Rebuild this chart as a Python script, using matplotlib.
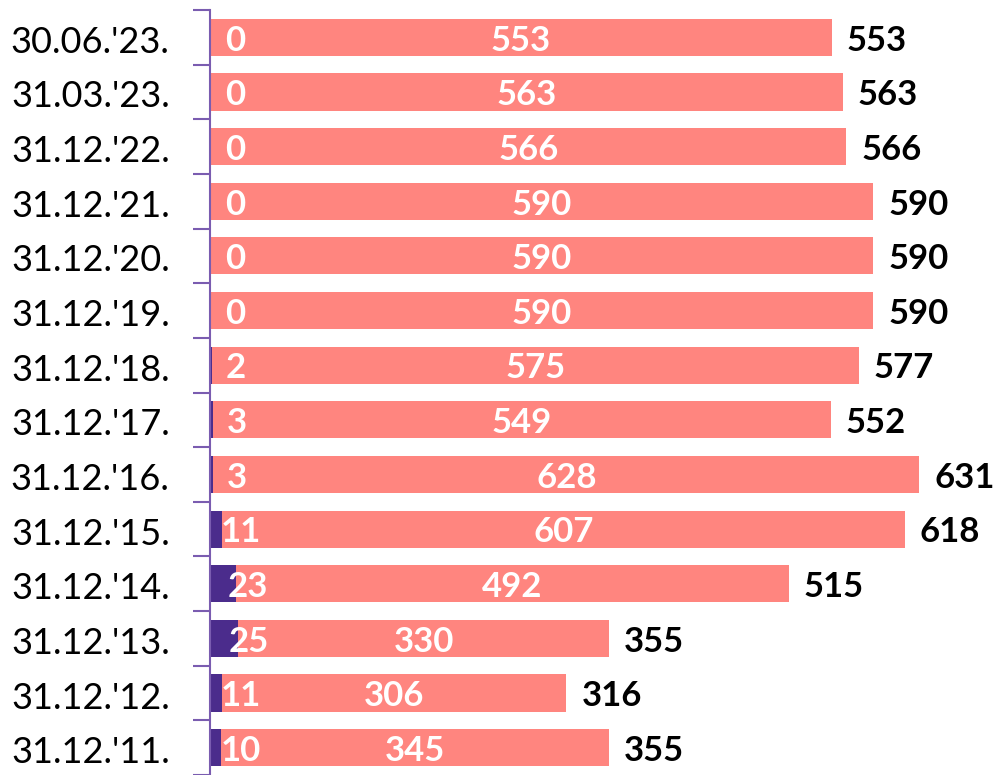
import matplotlib
matplotlib.use("Agg")
import matplotlib.pyplot as plt
import matplotlib.transforms as mtransforms
import numpy as np

categories = ["30.06.'23.", "31.03.'23.", "31.12.'22.", "31.12.'21.", "31.12.'20.", "31.12.'19.",
              "31.12.'18.", "31.12.'17.", "31.12.'16.", "31.12.'15.", "31.12.'14.", "31.12.'13.",
              "31.12.'12.", "31.12.'11."]
series_a = [0, 0, 0, 0, 0, 0, 2, 3, 3, 11, 23, 25, 11, 10]
series_b = [553, 563, 566, 590, 590, 590, 575, 549, 628, 607, 492, 330, 306, 345]
totals = [553, 563, 566, 590, 590, 590, 577, 552, 631, 618, 515, 355, 316, 355]

purple = "#4B2C8C"
salmon = "#FF857F"
axis_col = "#7A5CB0"
font = "Lato"

fig = plt.figure(figsize=(9.97, 7.75), dpi=100)
ax = fig.add_axes([210/997, 0, 1 - 210/997, 765/775])

n = len(categories)
y = np.arange(n)[::-1]
a = np.array(series_a, dtype=float)
b = np.array(series_b, dtype=float)
h = 0.68
ax.barh(y, a, height=h, color=purple, linewidth=0)
ax.barh(y, b, left=a, height=h, color=salmon, linewidth=0)

px = 700 / (997 - 210)  # data units per pixel
fs = 25
dy = -0.06
for yi, av, bv, tv in zip(y, a, b, totals):
    ax.text(av / 2 + 25 * px, yi + dy, f"{int(av)}", color="white", fontsize=fs, fontweight="bold",
            ha="center", va="center", family=font)
    ax.text(av + bv / 2, yi + dy, f"{int(bv)}", color="white", fontsize=fs, fontweight="bold",
            ha="center", va="center", family=font)
    ax.text(av + bv + 15 * px, yi + dy, f"{int(tv)}", color="black", fontsize=fs, fontweight="bold",
            ha="left", va="center", family=font)

ax.set_xlim(0, 700)
ax.set_ylim(-0.5, n - 0.5)
ax.set_yticks(y)
ax.set_yticklabels(categories, family=font, fontsize=26)
ax.set_yticks(np.arange(n + 1) - 0.5, minor=True)
ax.tick_params(axis="y", which="major", length=0, pad=29)
ax.tick_params(axis="y", which="minor", length=12, width=1.5, color=axis_col)
offset = mtransforms.ScaledTranslation(0, -2 / 100, fig.dpi_scale_trans)
for lbl in ax.get_yticklabels():
    lbl.set_transform(lbl.get_transform() + offset)
ax.set_xticks([])
for s in ["top", "right", "bottom"]:
    ax.spines[s].set_visible(False)
ax.spines["left"].set_color(axis_col)
ax.spines["left"].set_linewidth(1.5)

fig.savefig("out.png", dpi=100)
